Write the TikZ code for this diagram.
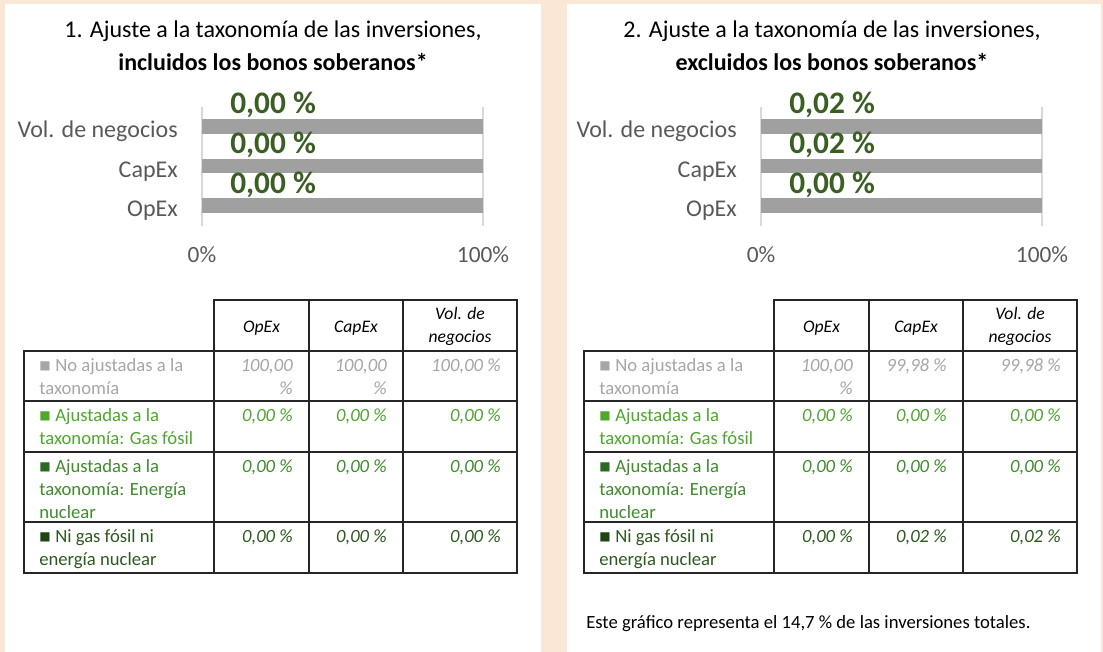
\documentclass[tikz,border=0pt]{standalone}
\usepackage{fontspec}
\setmainfont{Carlito}
\newfontfamily\symf{DejaVu Sans}
\definecolor{peach}{HTML}{FAE7D6}
\definecolor{bargray}{HTML}{A0A0A0}
\definecolor{gridgray}{HTML}{D9D9D9}
\definecolor{axisgray}{HTML}{595959}
\definecolor{lblgreen}{HTML}{3B5E22}
\definecolor{rowgray}{HTML}{A6A6A6}
\definecolor{gA}{HTML}{4EA72E}
\definecolor{gBt}{HTML}{3E8C2C}
\definecolor{gBs}{HTML}{2E6B22}
\definecolor{gCt}{HTML}{2E5A20}
\definecolor{gCs}{HTML}{1D4614}
\definecolor{rule}{HTML}{262626}
\newcommand{\sqbox}[1]{\raisebox{1.5pt}{\symf\fontsize{9}{9}\selectfont\textcolor{#1}{■}}\hspace{0.25em}}
\tikzset{
  ttl/.style={font=\fontsize{18}{21}\selectfont, inner sep=0, anchor=base},
  ttlb/.style={font=\fontsize{18}{21}\selectfont\bfseries, inner sep=0, anchor=base},
  cat/.style={font=\fontsize{18}{21}\selectfont, text=axisgray, inner sep=0, anchor=base east},
  axl/.style={font=\fontsize{17.5}{21}\selectfont, text=axisgray, inner sep=0, anchor=base},
  dl/.style={font=\fontsize{23.5}{28}\selectfont\bfseries, text=lblgreen, inner sep=0, anchor=base west},
  hdr/.style={font=\fontsize{13.2}{17.25}\selectfont\itshape, inner sep=0, anchor=base, align=center},
  rowt/.style={font=\fontsize{14}{17.25}\selectfont, inner sep=0, anchor=base west, align=left},
  val/.style={font=\fontsize{14}{17.25}\selectfont\itshape, inner sep=0, anchor=base east, align=right},
  gridl/.style={draw=gridgray, line width=1.5pt},
  bar/.style={fill=bargray},
  tline/.style={draw=rule, line width=1.1pt},
}
\begin{document}
\begin{tikzpicture}[x=0.75pt,y=-0.75pt]
\useasboundingbox (0,0) rectangle (1103,652);
\fill[peach] (0,0) rectangle (1103,652);
\fill[white] (5,4) rectangle (541,652);
\fill[white] (567,4) rectangle (1101,652);

% ---------------- Left chart ----------------
\node[ttl] (Lt1) at (273,38) {1. Ajuste a la taxonomía de las inversiones,};
\node[ttlb] (Lt2) at (273,71) {incluidos los bonos soberanos*};
\draw[gridl] (202,107) -- (202,226);
\draw[gridl] (483,107) -- (483,226);
\fill[bar] (202,119) rectangle (483,134);
\fill[bar] (202,159) rectangle (483,173);
\fill[bar] (202,198) rectangle (483,213);
\node[cat] (Lc1) at (178,138) {Vol. de negocios};
\node[cat] (Lc2) at (178,178) {CapEx};
\node[cat] (Lc3) at (178,217) {OpEx};
\node[dl] (Ld1) at (230,114) {0,00 \%};
\node[dl] (Ld2) at (230,154) {0,00 \%};
\node[dl] (Ld3) at (230,194) {0,00 \%};
\node[axl] (La0) at (202,263) {0\%};
\node[axl] (La1) at (483,263) {100\%};

% ---------------- Right chart ----------------
\begin{scope}[xshift=419.25pt]
\node[ttl] (Rt1) at (273,38) {2. Ajuste a la taxonomía de las inversiones,};
\node[ttlb] (Rt2) at (273,71) {excluidos los bonos soberanos*};
\draw[gridl] (202,107) -- (202,226);
\draw[gridl] (483,107) -- (483,226);
\fill[bar] (202,119) rectangle (483,134);
\fill[bar] (202,159) rectangle (483,173);
\fill[bar] (202,198) rectangle (483,213);
\node[cat] (Rc1) at (178,138) {Vol. de negocios};
\node[cat] (Rc2) at (178,178) {CapEx};
\node[cat] (Rc3) at (178,217) {OpEx};
\node[dl] (Rd1) at (230,114) {0,02 \%};
\node[dl] (Rd2) at (230,154) {0,02 \%};
\node[dl] (Rd3) at (230,194) {0,00 \%};
\node[axl] (Ra0) at (202,263) {0\%};
\node[axl] (Ra1) at (483,263) {100\%};
\end{scope}

% ---------------- Left table ----------------
\draw[tline] (214,300) rectangle (517,351);
\draw[tline] (309,300) -- (309,573);
\draw[tline] (403,300) -- (403,573);
\draw[tline] (24,351) rectangle (517,573);
\draw[tline] (214,351) -- (214,573);
\draw[tline] (24,401) -- (517,401);
\draw[tline] (24,452) -- (517,452);
\draw[tline] (24,522) -- (517,522);
\node[hdr] (Lh1) at (261.5,333) {OpEx};
\node[hdr] (Lh2) at (356,333) {CapEx};
\node[hdr] (Lh3) at (460,343) {Vol. de\\negocios};
\node[rowt, text=rowgray] (Lr1) at (39,394) {\sqbox{rowgray}No ajustadas a la\\taxonomía};
\node[rowt, text=gA] (Lr2) at (39,444) {\sqbox{gA}Ajustadas a la\\taxonomía: Gas fósil};
\node[rowt, text=gBt] (Lr3) at (39,518) {\sqbox{gBs}Ajustadas a la\\taxonomía: Energía\\nuclear};
\node[rowt, text=gCt] (Lr4) at (39,565) {\sqbox{gCs}Ni gas fósil ni\\energía nuclear};
\node[val, text=rowgray] (Lv11) at (293,394) {100,00\\\%};
\node[val, text=rowgray] (Lv12) at (387,394) {100,00\\\%};
\node[val, text=rowgray] (Lv13) at (501,371) {100,00 \%};
\node[val, text=gA] (Lv21) at (293,421) {0,00 \%};
\node[val, text=gA] (Lv22) at (387,421) {0,00 \%};
\node[val, text=gA] (Lv23) at (501,421) {0,00 \%};
\node[val, text=gBt] (Lv31) at (293,472) {0,00 \%};
\node[val, text=gBt] (Lv32) at (387,472) {0,00 \%};
\node[val, text=gBt] (Lv33) at (501,472) {0,00 \%};
\node[val, text=gCt] (Lv41) at (293,542) {0,00 \%};
\node[val, text=gCt] (Lv42) at (387,542) {0,00 \%};
\node[val, text=gCt] (Lv43) at (501,542) {0,00 \%};

% ---------------- Right table ----------------
\begin{scope}[xshift=420pt]
\draw[tline] (214,300) rectangle (517,351);
\draw[tline] (309,300) -- (309,573);
\draw[tline] (403,300) -- (403,573);
\draw[tline] (24,351) rectangle (517,573);
\draw[tline] (214,351) -- (214,573);
\draw[tline] (24,401) -- (517,401);
\draw[tline] (24,452) -- (517,452);
\draw[tline] (24,522) -- (517,522);
\node[hdr] (Rh1) at (261.5,333) {OpEx};
\node[hdr] (Rh2) at (356,333) {CapEx};
\node[hdr] (Rh3) at (460,343) {Vol. de\\negocios};
\node[rowt, text=rowgray] (Rr1) at (39,394) {\sqbox{rowgray}No ajustadas a la\\taxonomía};
\node[rowt, text=gA] (Rr2) at (39,444) {\sqbox{gA}Ajustadas a la\\taxonomía: Gas fósil};
\node[rowt, text=gBt] (Rr3) at (39,518) {\sqbox{gBs}Ajustadas a la\\taxonomía: Energía\\nuclear};
\node[rowt, text=gCt] (Rr4) at (39,565) {\sqbox{gCs}Ni gas fósil ni\\energía nuclear};
\node[val, text=rowgray] (Rv11) at (293,394) {100,00\\\%};
\node[val, text=rowgray] (Rv12) at (387,371) {99,98 \%};
\node[val, text=rowgray] (Rv13) at (501,371) {99,98 \%};
\node[val, text=gA] (Rv21) at (293,421) {0,00 \%};
\node[val, text=gA] (Rv22) at (387,421) {0,00 \%};
\node[val, text=gA] (Rv23) at (501,421) {0,00 \%};
\node[val, text=gBt] (Rv31) at (293,472) {0,00 \%};
\node[val, text=gBt] (Rv32) at (387,472) {0,00 \%};
\node[val, text=gBt] (Rv33) at (501,472) {0,00 \%};
\node[val, text=gCt] (Rv41) at (293,542) {0,00 \%};
\node[val, text=gCt] (Rv42) at (387,542) {0,02 \%};
\node[val, text=gCt] (Rv43) at (501,542) {0,02 \%};
\end{scope}

\node[font=\fontsize{14}{16}\selectfont, inner sep=0, anchor=base west] (note) at (586,628) {Este gráfico representa el 14,7 \% de las inversiones totales.};
\end{tikzpicture}
\end{document}
